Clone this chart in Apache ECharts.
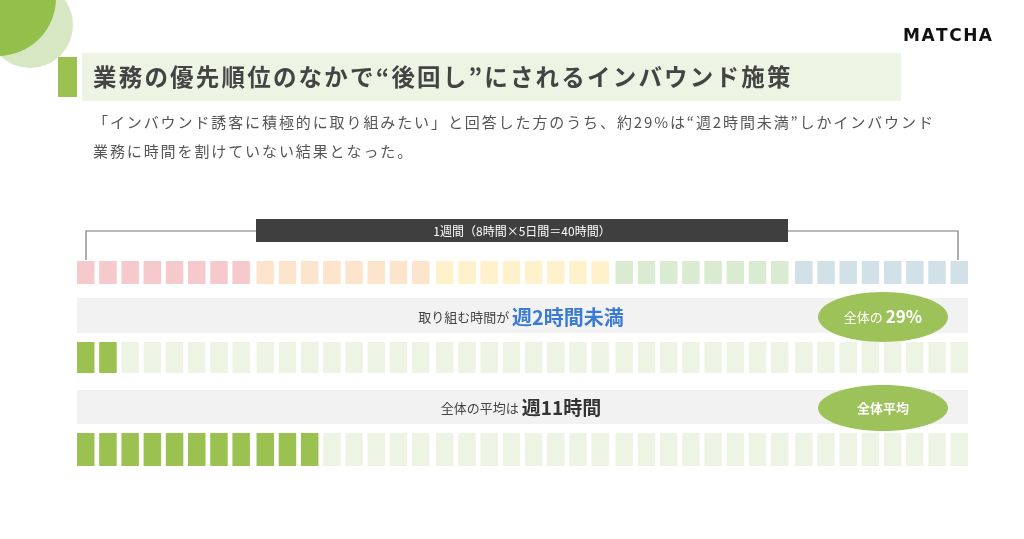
<!DOCTYPE html>
<html>
<head>
<meta charset="utf-8">
<script src="https://cdn.jsdelivr.net/npm/echarts@6/dist/echarts.min.js"></script>
<style>
html,body{margin:0;padding:0;background:#fff;}
#chart{width:1024px;height:539px;}
</style>
</head>
<body>
<div id="chart"></div>
<script>
// ---- data ----
const hoursPerDay = 8;
const workDays = 5;
const weekHours = hoursPerDay * workDays; // 40
const hourLabels = Array.from({length: weekHours}, (_, i) => String(i + 1));
const dayNames = ['月', '火', '水', '木', '金'];
const under2Hours = 2;      // 週2時間未満
const averageHours = 11;    // 全体平均 週11時間
const sharePct = 29;        // 全体の29%

const titleText = '業務の優先順位のなかで“後回し”にされるインバウンド施策';
const subLine1 = '「インバウンド誘客に積極的に取り組みたい」と回答した方のうち、約' + sharePct + '%は“週' + under2Hours + '時間未満”しかインバウンド';
const subLine2 = '業務に時間を割けていない結果となった。';
const logoText = 'MATCHA';

// ---- style ----
const FONT = '"Noto Sans CJK JP", "Noto Sans", sans-serif';
const dayColors = ['#f6c9cc', '#fde4cd', '#fff1cc', '#d9ebd1', '#d2e0e7'];
const ON = '#9bc251';
const OFF = '#eef4e4';
const BLOCK_W = 17.5;
const GROUP_EXTRA = 1.9;
const GL = 77, GW = 891;

// letter-spaced text helper (one text element per character)
const measureCtx = document.createElement('canvas').getContext('2d');
function spaced(str, x, y, font, fill, spacing, align) {
  measureCtx.font = font;
  const chars = Array.from(str);
  const widths = chars.map(c => measureCtx.measureText(c).width);
  const total = widths.reduce((a, b) => a + b, 0) + spacing * (chars.length - 1);
  let cx = align === 'center' ? x - total / 2 : (align === 'right' ? x - total : x);
  return chars.map((c, k) => {
    const el = {type: 'text', x: cx, y: y, style: {text: c, font: font, fill: fill, verticalAlign: 'middle'}};
    cx += widths[k] + spacing;
    return el;
  });
}

const chart = echarts.init(document.getElementById('chart'), null, {renderer: 'canvas'});

function blockRender(kind) {
  return function (params, api) {
    const i = api.value(0);
    const c = api.coord([i, 0]);
    const b = api.size([1, 0])[0];
    const h = api.size([0, 1])[1];
    const pitch = (b * weekHours - BLOCK_W - (workDays - 1) * GROUP_EXTRA) / (weekHours - 1);
    const g = Math.floor(i / hoursPerDay);
    const bandStart = c[0] - b / 2;
    const x = bandStart - i * (b - pitch) + g * GROUP_EXTRA;
    let fill;
    if (kind === 'day') fill = dayColors[api.value(2)];
    else fill = api.value(2) ? ON : OFF;
    return {type: 'rect', shape: {x: x, y: c[1] - h / 2, width: BLOCK_W, height: h}, style: {fill: fill}};
  };
}

const weekData = hourLabels.map((h, i) => [i, 0, Math.floor(i / hoursPerDay)]);
const under2Data = hourLabels.map((h, i) => [i, 0, i < under2Hours ? 1 : 0]);
const avgData = hourLabels.map((h, i) => [i, 0, i < averageHours ? 1 : 0]);

const grids = [
  {left: GL, width: GW, top: 261, height: 23},
  {left: GL, width: GW, top: 342, height: 31},
  {left: GL, width: GW, top: 433, height: 33}
];
const xAxes = grids.map((g, k) => ({type: 'category', gridIndex: k, data: hourLabels, show: false, boundaryGap: true}));
const yAxes = grids.map((g, k) => ({type: 'category', gridIndex: k, data: ['row'], show: false}));

const graphics = [
  // decorative circles
  {type: 'circle', shape: {cx: 30, cy: 25, r: 43}, style: {fill: '#d7e7c4'}, z: 1},
  {type: 'circle', shape: {cx: -2, cy: -2, r: 58}, style: {fill: '#93bf4b'}, z: 2},
  // title band
  {type: 'rect', shape: {x: 82, y: 53, width: 819, height: 48}, style: {fill: '#edf4e3'}},
  {type: 'rect', shape: {x: 58, y: 57, width: 19, height: 40}, style: {fill: '#9bc251'}},
  // bracket
  {type: 'polyline', shape: {points: [[86, 260], [86, 231], [256, 231]]}, style: {stroke: '#777', lineWidth: 1.2, fill: null}},
  {type: 'polyline', shape: {points: [[788, 231], [958, 231], [958, 260]]}, style: {stroke: '#777', lineWidth: 1.2, fill: null}},
  {type: 'rect', shape: {x: 256, y: 219, width: 532, height: 23}, style: {fill: '#3f3f3f'}},
  {type: 'text', x: 522, y: 231, style: {text: '1週間（' + hoursPerDay + '時間×' + workDays + '日間＝' + weekHours + '時間）', fill: '#fff', font: '12px ' + FONT, align: 'center', verticalAlign: 'middle'}},
  // row 2 band
  {type: 'rect', shape: {x: GL, y: 298, width: GW, height: 35}, style: {fill: '#f2f2f2'}},
  {type: 'text', x: 521, y: 317, style: {
    text: '{a|取り組む時間が }{b|週' + under2Hours + '時間未満}', align: 'center', verticalAlign: 'middle',
    rich: {a: {fill: '#444', font: '13px ' + FONT}, b: {fill: '#3a7bd5', font: 'bold 20px ' + FONT}}
  }},
  {type: 'ellipse', shape: {cx: 883, cy: 317, rx: 65, ry: 25}, style: {fill: '#9dc25a'}},
  {type: 'text', x: 883, y: 317, style: {
    text: '{a|全体の }{b|' + sharePct + '%}', align: 'center', verticalAlign: 'middle',
    rich: {a: {fill: '#fff', font: '13px ' + FONT}, b: {fill: '#fff', font: 'bold 17px ' + FONT}}
  }},
  // row 3 band
  {type: 'rect', shape: {x: GL, y: 390, width: GW, height: 34}, style: {fill: '#f2f2f2'}},
  {type: 'text', x: 521, y: 408, style: {
    text: '{a|全体の平均は }{b|週' + averageHours + '時間}', align: 'center', verticalAlign: 'middle',
    rich: {a: {fill: '#444', font: '13px ' + FONT}, b: {fill: '#333', font: 'bold 19px ' + FONT}}
  }},
  {type: 'ellipse', shape: {cx: 883, cy: 408, rx: 65, ry: 23}, style: {fill: '#9dc25a'}},
  {type: 'text', x: 883, y: 408, style: {text: '全体平均', fill: '#fff', font: 'bold 13px ' + FONT, align: 'center', verticalAlign: 'middle'}}
].concat(
  spaced(logoText, 947.5, 37, 'bold 17px "DejaVu Sans", sans-serif', '#111', 1.5, 'center'),
  spaced(titleText, 93, 77, 'bold 23.5px ' + FONT, '#444', 2.2, 'left'),
  spaced(subLine1, 93, 122, '15px ' + FONT, '#555', 1.9, 'left'),
  spaced(subLine2, 93, 151, '15px ' + FONT, '#555', 1.9, 'left')
);

const option = {
  backgroundColor: '#ffffff',
  animation: false,
  grid: grids,
  xAxis: xAxes,
  yAxis: yAxes,
  series: [
    {type: 'custom', name: dayNames.join(''), xAxisIndex: 0, yAxisIndex: 0, data: weekData, renderItem: blockRender('day')},
    {type: 'custom', name: 'under2', xAxisIndex: 1, yAxisIndex: 1, data: under2Data, renderItem: blockRender('fill')},
    {type: 'custom', name: 'avg', xAxisIndex: 2, yAxisIndex: 2, data: avgData, renderItem: blockRender('fill')}
  ],
  graphic: graphics
};
chart.setOption(option);
</script>
</body>
</html>
